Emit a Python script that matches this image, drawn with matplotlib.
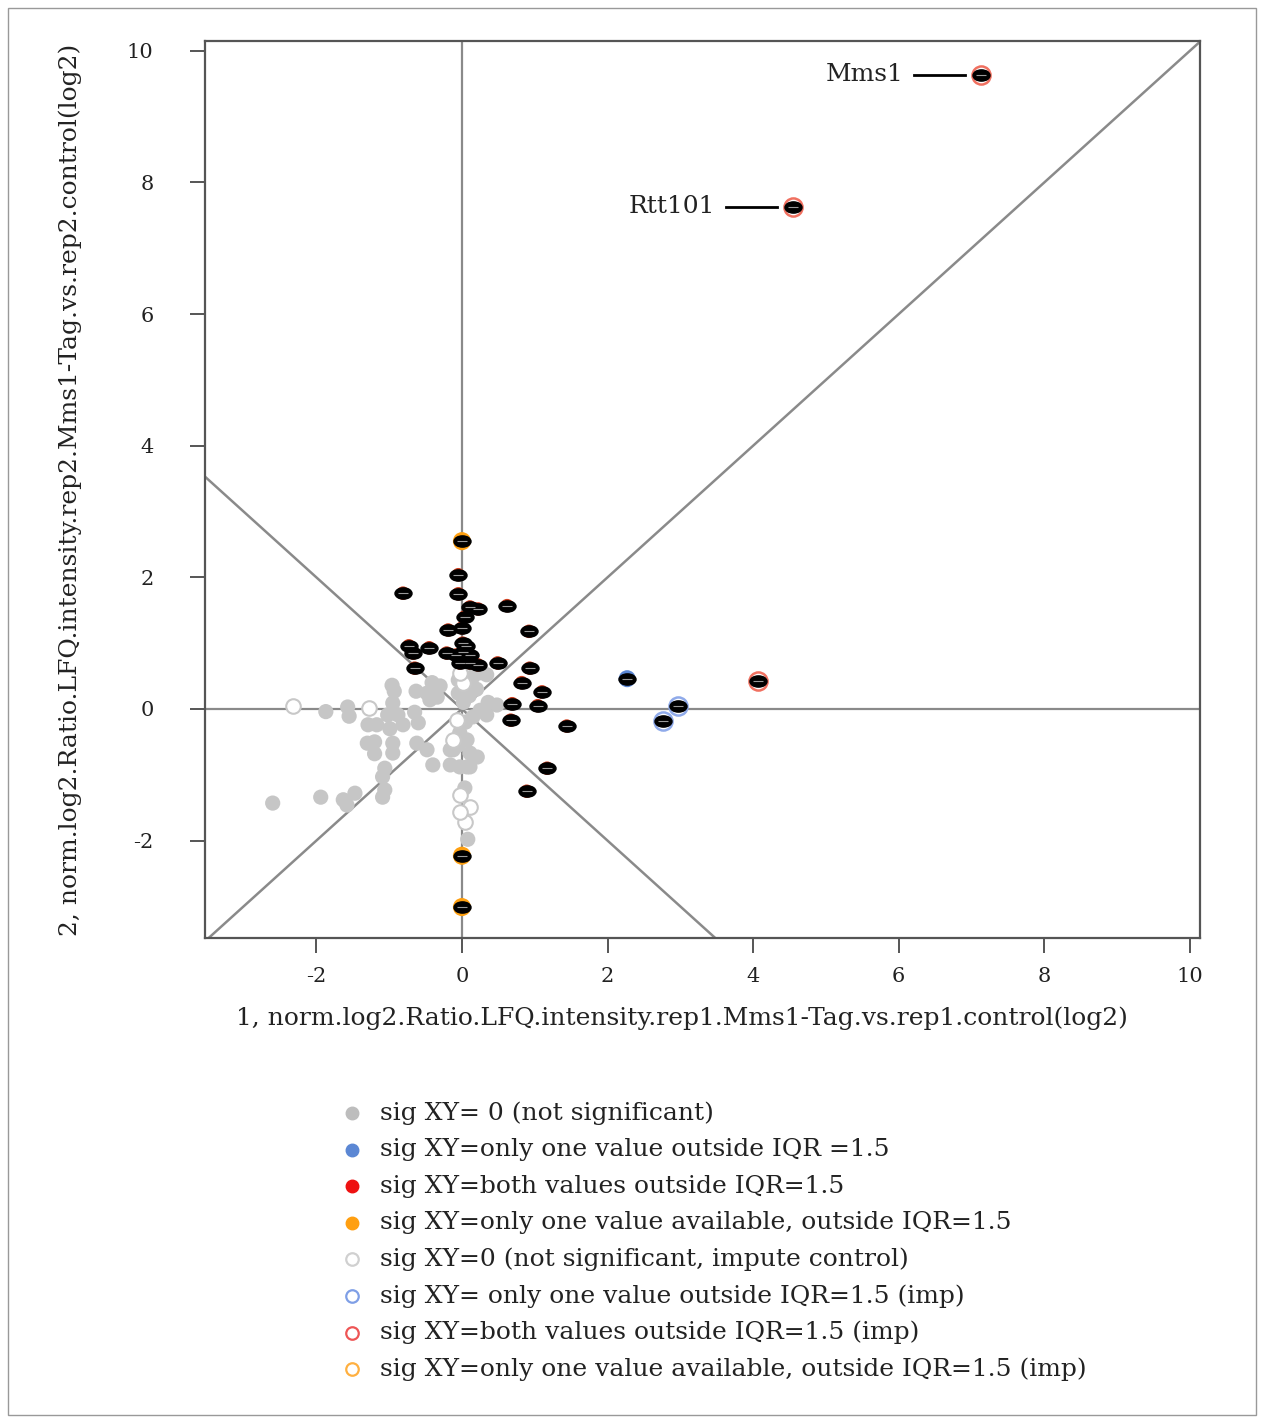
import numpy as np
import matplotlib
matplotlib.use("Agg")
import matplotlib.pyplot as plt
from matplotlib.path import Path
from matplotlib.patches import Rectangle

plt.rcParams['font.family'] = ['DejaVu Serif']

# not significant (filled grey)
grey_x = [-1.87, -1.57, -1.55, -0.96, -0.93, -0.63, -0.95, -1.02, -0.88, -1.29, -1.17, -0.99,
          -0.81, -0.65, -0.60, -0.44, -0.37, -1.30, -1.20, -1.20, -0.95, -0.95, -0.62, -0.48,
          -0.40, -1.06, -1.09, -1.06, -1.09, -2.60, -1.94, -1.63, -1.58, -1.47, -0.16, -0.16,
          0.07, -0.05, -0.05, 0.15, 0.25, 0.34, 0.36, 0.48, 0.25, 0.15, 0.34, -0.41, -0.48,
          -0.34, -0.03, 0.07, -0.12, 0.11, 0.21, -0.03, 0.11, 0.08, -0.30, 0.02, 0.05, -0.05,
          0.20, 0.10, 0.04]
grey_y = [-0.04, 0.03, -0.11, 0.36, 0.27, 0.27, 0.09, -0.09, -0.09, -0.24, -0.24, -0.30,
          -0.24, -0.05, -0.21, 0.14, 0.24, -0.52, -0.50, -0.68, -0.52, -0.67, -0.52, -0.62,
          -0.85, -0.90, -1.03, -1.23, -1.34, -1.43, -1.34, -1.38, -1.46, -1.28, -0.62, -0.85,
          -0.88, 0.44, 0.24, 0.49, 0.55, 0.52, 0.10, 0.06, -0.02, -0.12, -0.09, 0.40, 0.24,
          0.18, -0.36, -0.47, -0.62, -0.67, -0.73, -0.88, -0.88, -1.98, 0.35, 0.10, -0.20, -0.55,
          0.30, 0.20, -1.20]

# not significant, imputed control (open grey)
grey_imp_x = [-2.32, -1.28, -0.07, -0.12, -0.03, 0.11, 0.04, -0.03, 0.02, -0.02]
grey_imp_y = [0.05, 0.02, -0.17, -0.47, -1.31, -1.49, -1.72, -1.57, 0.40, 0.55]

# both values outside IQR (filled red)
red_x = [-0.81, -0.05, -0.05, 0.11, 0.22, 0.62, 0.04, -0.19, 0.00, 0.92, -0.73, -0.67,
         -0.45, -0.21, 0.01, 0.01, 0.11, -0.03, 0.11, 0.22, 0.49, -0.65, 0.93, 0.82,
         1.10, 0.69, 1.04, 0.67, 1.44, 1.17, 0.89, 0.05, -0.08]
red_y = [1.76, 2.04, 1.75, 1.55, 1.52, 1.57, 1.40, 1.20, 1.23, 1.18, 0.96, 0.85,
         0.93, 0.85, 1.00, 0.86, 0.82, 0.70, 0.70, 0.67, 0.70, 0.62, 0.62, 0.40,
         0.26, 0.08, 0.05, -0.17, -0.26, -0.90, -1.25, 0.95, 0.82]

# only one value outside IQR
blue_x = [2.27]
blue_y = [0.46]
blue_imp_x = [2.97, 2.76]
blue_imp_y = [0.05, -0.18]

# both outside IQR, imputed
red_imp_x = [7.13, 4.55, 4.07]
red_imp_y = [9.64, 7.63, 0.43]

# only one value available
orange_x = [0.0, 0.0, 0.0]
orange_y = [2.55, -2.23, -3.01]

labels = ["Mms1", "Rtt101"]
label_x = [7.13, 4.55]
label_y = [9.64, 7.63]

legend_text = ["sig XY= 0 (not significant)",
               "sig XY=only one value outside IQR =1.5",
               "sig XY=both values outside IQR=1.5",
               "sig XY=only one value available, outside IQR=1.5",
               "sig XY=0 (not significant, impute control)",
               "sig XY= only one value outside IQR=1.5 (imp)",
               "sig XY=both values outside IQR=1.5 (imp)",
               "sig XY=only one value available, outside IQR=1.5 (imp)"]
legend_col = ["#bdbdbd", "#5b87d4", "#ee1111", "#ff9f10",
              "#d0d0d0", "#7f9fe6", "#ee5555", "#ffb040"]
legend_fill = [True, True, True, True, False, False, False, False]

fig = plt.figure(figsize=(12.64, 14.23), dpi=100)
ax = fig.add_axes([205/1264, 1 - 938/1423, 995/1264, 897/1423])
ax.set_xlim(-3.53, 10.14)
ax.set_ylim(-3.48, 10.15)

lc = "#8a8a8a"
ax.axvline(0, color=lc, lw=1.6, zorder=1)
ax.axhline(0, color=lc, lw=1.6, zorder=1)
ax.axline((0, 0), slope=1, color=lc, lw=1.8, zorder=1)
ax.axline((0, 0), slope=-1, color=lc, lw=1.8, zorder=1)

ell = Path(Path.unit_circle().vertices * np.array([1.0, 0.66]), Path.unit_circle().codes)


def sig_overlay(xs, ys):
    ax.scatter(xs, ys, s=150, marker=ell, color="black", zorder=4)
    ax.scatter(xs, ys, s=45, marker="_", color="#9a9a9a", linewidths=0.8, zorder=5)


ax.scatter(grey_x, grey_y, s=120, color="#c6c6c6", edgecolors="none", zorder=2)
ax.scatter(grey_imp_x, grey_imp_y, s=110, facecolors="white", edgecolors="#c8c8c8",
           linewidths=1.5, zorder=2)

ax.scatter(red_x, red_y, s=95, color="#d04020", edgecolors="none", zorder=3)
sig_overlay(red_x, red_y)
ax.scatter(blue_x, blue_y, s=150, color="#5b87d4", edgecolors="none", zorder=3)
sig_overlay(blue_x, blue_y)
ax.scatter(blue_imp_x, blue_imp_y, s=170, facecolors="white", edgecolors="#8faaea",
           linewidths=1.8, zorder=3)
sig_overlay(blue_imp_x, blue_imp_y)
ax.scatter(red_imp_x, red_imp_y, s=170, facecolors="white", edgecolors="#f07060",
           linewidths=1.8, zorder=3)
sig_overlay(red_imp_x, red_imp_y)
ax.scatter(orange_x, orange_y, s=170, color="#ffa010", edgecolors="none", zorder=3)
sig_overlay(orange_x, orange_y)

for name, lx, ly in zip(labels, label_x, label_y):
    ax.plot([lx - 0.92, lx - 0.22], [ly, ly], color="black", lw=2, zorder=4)
    ax.text(lx - 1.07, ly, name, ha="right", va="center", fontsize=18, color="#222222")

for s in ax.spines.values():
    s.set_color("#555555")
    s.set_linewidth(1.6)
ax.set_xticks([-2, 0, 2, 4, 6, 8, 10])
ax.set_yticks([-2, 0, 2, 4, 6, 8, 10])
ax.set_xticklabels(["-2", "0", "2", "4", "6", "8", "10"])
ax.set_yticklabels(["-2", "0", "2", "4", "6", "8", "10"])
ax.tick_params(direction="out", length=11, width=1.4, color="#555555",
               labelsize=15, labelcolor="#222222", pad=10)
ax.tick_params(axis="y", pad=26)

fig.text(682/1264, 1 - 1018/1423,
         "1, norm.log2.Ratio.LFQ.intensity.rep1.Mms1-Tag.vs.rep1.control(log2)",
         ha="center", va="center", fontsize=18, color="#222222")
fig.text(70/1264, 1 - 490/1423,
         "2, norm.log2.Ratio.LFQ.intensity.rep2.Mms1-Tag.vs.rep2.control(log2)",
         ha="center", va="center", rotation=90, fontsize=18, color="#222222")

# legend block
for i, (txt, col, filled) in enumerate(zip(legend_text, legend_col, legend_fill)):
    yy = 1 - (1113 + i * 36.6) / 1423
    if filled:
        fig.lines.append(plt.Line2D([352/1264], [yy], marker="o", markersize=9,
                                    color=col, markeredgecolor=col, transform=fig.transFigure))
    else:
        fig.lines.append(plt.Line2D([352/1264], [yy], marker="o", markersize=9,
                                    markerfacecolor="white", markeredgecolor=col,
                                    markeredgewidth=1.6, transform=fig.transFigure))
    fig.text(380/1264, yy, txt, ha="left", va="center", fontsize=18, color="#222222")

fig.patches.append(Rectangle((8/1264, 8/1423), 1248/1264, 1407/1423, fill=False,
                             edgecolor="#999999", lw=1, transform=fig.transFigure))

fig.savefig("out.png", dpi=100)
